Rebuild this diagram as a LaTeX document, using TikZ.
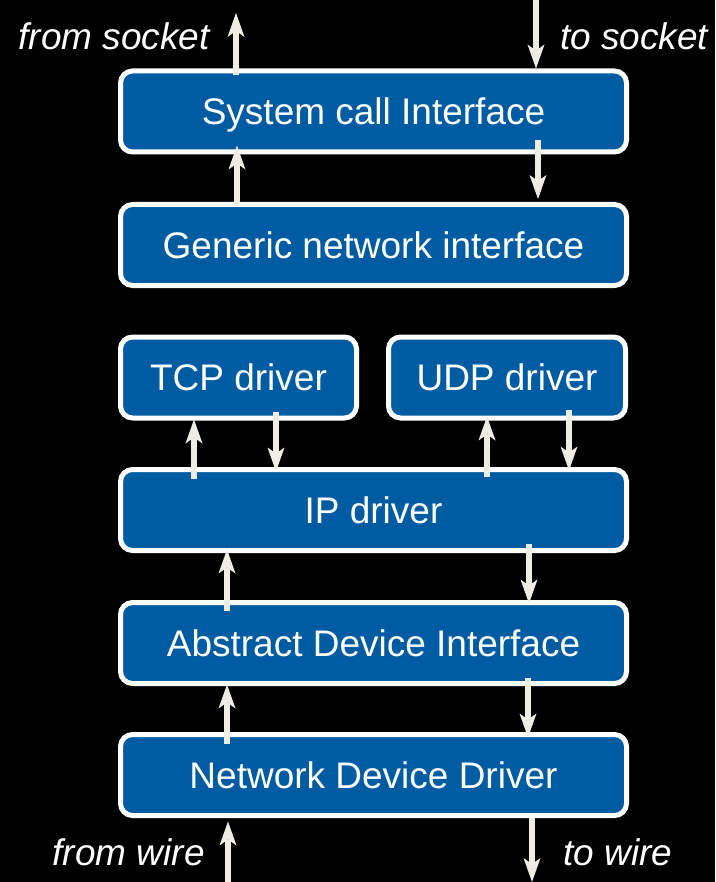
\documentclass[tikz,border=0pt]{standalone}
\usepackage{fontspec}
\setmainfont{Liberation Sans}
\usetikzlibrary{arrows.meta}
\definecolor{boxblue}{RGB}{0,92,162}
\definecolor{arrowc}{RGB}{238,237,227}
\begin{document}
\begin{tikzpicture}[x=1pt,y=-1pt,
  box/.style={draw=white, line width=5pt, fill=boxblue, rounded corners=12pt,
    text=white, font=\fontsize{37}{44}\selectfont, inner sep=0pt,
    text height=26.5pt, text depth=0pt, minimum height=81pt},
  wide/.style={box, minimum width=506pt},
  arr/.style={draw=arrowc, line width=6pt,
    -{Stealth[length=24pt,width=17pt,inset=6pt,line width=0pt]}},
  lbl/.style={text=white, font=\fontsize{37}{44}\selectfont\itshape, inner sep=0pt}]
\fill[black] (0,0) rectangle (715,882);
\useasboundingbox (0,0) rectangle (715,882);

% boxes
\node[wide] (sys) at (373.5,111.5) {System call Interface};
\node[wide] (gen) at (373.5,245) {Generic network interface};
\node[box, minimum width=236pt] (tcp) at (238.5,377.5) {TCP driver};
\node[box, minimum width=237pt] (udp) at (507,377.5) {UDP driver};
\node[wide] (ip) at (373.5,510) {IP driver};
\node[wide] (abs) at (373.5,643) {Abstract Device Interface};
\node[wide] (ndd) at (373.5,775) {Network Device Driver};

% labels
\node[lbl, anchor=base east] (lfs) at (210,50) {from socket};
\node[lbl, anchor=base west] (lts) at (560,50) {to socket};
\node[lbl, anchor=base east] (lfw) at (205,865) {from wire};
\node[lbl, anchor=base west] (ltw) at (563,865) {to wire};

% columns and free ends
\coordinate (xfs) at (236,0);
\coordinate (xts) at (536,0);
\coordinate (xgu) at (237,0);
\coordinate (xgd) at (538,0);
\coordinate (xtu) at (194,0);
\coordinate (xtd) at (276,0);
\coordinate (xuu) at (487,0);
\coordinate (xud) at (569,0);
\coordinate (xiu) at (227,0);
\coordinate (xid) at (529,0);
\coordinate (xau) at (227,0);
\coordinate (xad) at (528,0);
\coordinate (fsend) at (236,13);
\coordinate (tsstart) at (536,0);
\coordinate (fwstart) at (228,882);
\coordinate (twend) at (532,882);

% arrows
\draw[arr, shorten <=-7pt] (sys.north -| xfs) -- (fsend);
\draw[arr] (tsstart) -- (sys.north -| xts);
\draw[arr, shorten <=-2.5pt, shorten >=-9pt] (gen.north -| xgu) -- (sys.south -| xgu);
\draw[arr, shorten <=-14pt, shorten >=3pt] (sys.south -| xgd) -- (gen.north -| xgd);
\draw[arr, shorten <=-11.5pt, shorten >=-1pt] (ip.north -| xtu) -- (tcp.south -| xtu);
\draw[arr, shorten <=-9pt, shorten >=-4.5pt] (tcp.south -| xtd) -- (ip.north -| xtd);
\draw[arr, shorten <=-9.5pt, shorten >=-4pt] (ip.north -| xuu) -- (udp.south -| xuu);
\draw[arr, shorten <=-11pt, shorten >=-3.5pt] (udp.south -| xud) -- (ip.north -| xud);
\draw[arr, shorten <=-10.5pt, shorten >=-3.5pt] (abs.north -| xiu) -- (ip.south -| xiu);
\draw[arr, shorten <=-9.5pt, shorten >=-3.5pt] (ip.south -| xid) -- (abs.north -| xid);
\draw[arr, shorten <=-11.5pt, shorten >=-1.5pt] (ndd.north -| xau) -- (abs.south -| xau);
\draw[arr, shorten <=-8.5pt, shorten >=-5.5pt] (abs.south -| xad) -- (ndd.north -| xad);
\draw[arr, shorten >=3.5pt] (fwstart) -- (ndd.south -| fwstart);
\draw[arr] (ndd.south -| twend) -- (twend);
\end{tikzpicture}
\end{document}
